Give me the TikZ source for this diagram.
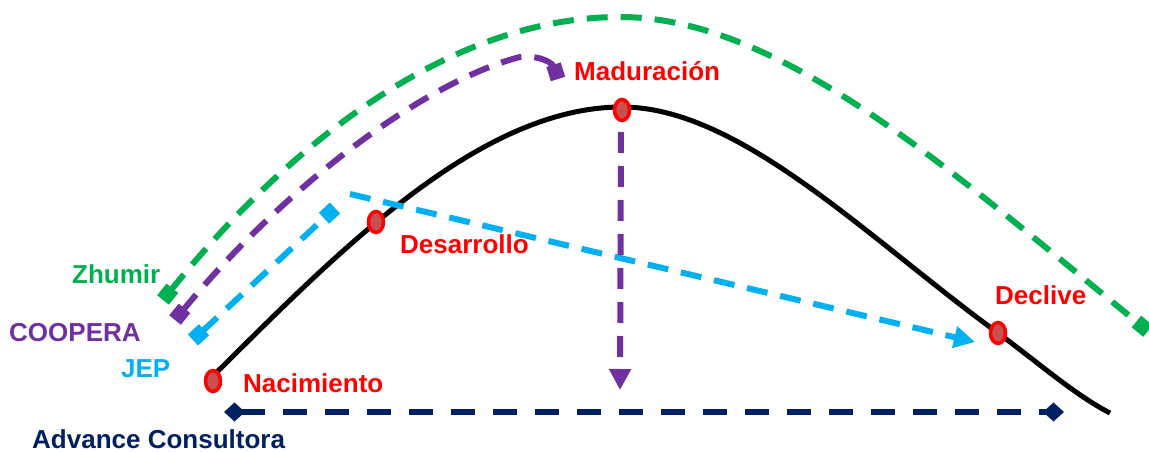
\documentclass[tikz,border=0pt]{standalone}
\usepackage{fontspec}
\setmainfont{Liberation Sans}
\usetikzlibrary{arrows.meta,shapes.geometric}
\definecolor{zgreen}{RGB}{0,176,80}
\definecolor{cpurple}{RGB}{112,48,160}
\definecolor{jblue}{RGB}{0,176,240}
\definecolor{anavy}{RGB}{0,32,96}
\definecolor{ptfill}{RGB}{200,80,80}
\tikzset{
  lbl/.style={anchor=base west, inner sep=0pt, font=\fontsize{26}{30}\selectfont\bfseries},
  stage/.style={ellipse, draw=red, fill=ptfill, line width=3.5pt, minimum width=15pt, minimum height=21pt, inner sep=0pt},
  curve/.style={line width=5pt, black},
  dline/.style={line width=6pt, dash pattern=on 21pt off 13pt},
  sq/.tip={Square[length=15pt,width=15pt]},
  tri/.tip={Triangle[length=21pt,width=21pt]},
  dia/.tip={Diamond[length=21pt,width=19pt]},
}
\begin{document}
\begin{tikzpicture}[x=1pt,y=-1pt]
\useasboundingbox (0,0) rectangle (1149,452);
% coordinates
\coordinate (cs) at (217,372);
\coordinate (ce) at (1110,413);
\coordinate (cpk) at (622,107);
\coordinate (cdes) at (376,222);
\coordinate (cdec) at (998,333);
% main curve
\draw[curve] (cs) .. controls (340,250) and (480,107) .. (cpk)
  .. controls (740,107) and (870,240) .. (cdec)
  .. controls (1040,364) and (1075,395) .. (ce);
% green Zhumir
\coordinate (gs) at (163,300);
\coordinate (gp) at (620,17);
\coordinate (ge) at (1148,331);
\draw[dline, zgreen, sq-sq]
  (gs) .. controls (300,130) and (460,17) .. (gp)
  .. controls (780,17) and (950,170) .. (ge);
% purple COOPERA
\coordinate (ps) at (175,320);
\coordinate (pp) at (520,57);
\coordinate (pe) at (558,79);
\draw[dline, cpurple, sq-sq]
  (ps) .. controls (290,180) and (430,80) .. (pp)
  .. controls (540,55) and (553,63) .. (pe);
% blue JEP
\coordinate (js) at (193,340);
\coordinate (jm) at (335,208);
\coordinate (j2) at (350,194);
\coordinate (je) at (975,342);
\draw[dline, jblue, sq-sq] (js) -- (jm);
\draw[dline, jblue, -tri] (j2) -- (je);
% purple vertical
\coordinate (vs) at (621,132);
\coordinate (ve) at (620,390);
\draw[dline, cpurple, -tri] (vs) -- (ve);
% navy
\coordinate (as) at (224,412);
\coordinate (ae) at (1064,412);
\draw[line width=5.5pt, anavy, dash pattern=on 24pt off 18pt, dia-dia] (as) -- (ae);
% stage points
\node[stage] (nac) at (213,381) {};
\node[stage] (des) at (cdes) {};
\node[stage] (mad) at (622,110) {};
\node[stage] (dec) at (cdec) {};
% labels
\node[lbl, red] (tmad) at (574,81) {Maduración};
\node[lbl, red] (tdes) at (400,253) {Desarrollo};
\node[lbl, red] (tnac) at (243,392) {Nacimiento};
\node[lbl, red] (tdec) at (995,304) {Declive};
\node[lbl, zgreen] (tz) at (72,283) {Zhumir};
\node[lbl, cpurple] (tc) at (9,341) {COOPERA};
\node[lbl, jblue] (tj) at (121,377) {JEP};
\node[lbl, anavy] (ta) at (32,448) {Advance Consultora};
\end{tikzpicture}
\end{document}
